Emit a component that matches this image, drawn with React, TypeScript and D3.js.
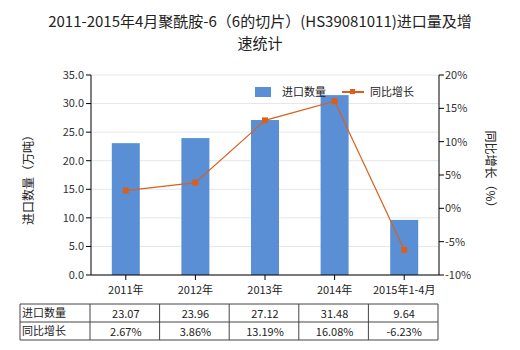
import React from "react";
import * as d3 from "d3";

const categories = ["2011年", "2012年", "2013年", "2014年", "2015年1-4月"];
const importQty = [23.07, 23.96, 27.12, 31.48, 9.64];
const growth = [2.67, 3.86, 13.19, 16.08, -6.23];
const qtyLabels = ["23.07", "23.96", "27.12", "31.48", "9.64"];
const growthLabels = ["2.67%", "3.86%", "13.19%", "16.08%", "-6.23%"];
const leftTicks = [0, 5, 10, 15, 20, 25, 30, 35];
const rightTicks = [-10, -5, 0, 5, 10, 15, 20];

const WIDTH = 520;
const HEIGHT = 350;
const M = { left: 91, right: 439, top: 75, bottom: 275 };
const BAR = "#5a8fd6";
const LINE = "#d9601c";
const FONT = "'Noto Sans CJK SC', 'Microsoft YaHei', sans-serif";

const App = () => {
  const x = d3
    .scaleBand()
    .domain(categories)
    .range([M.left, M.right])
    .paddingInner(0.6)
    .paddingOuter(0.3);
  const xc = (c: string) => (x(c) as number) + x.bandwidth() / 2;
  const yL = d3.scaleLinear().domain([0, 35]).range([M.bottom, M.top]);
  const yR = d3.scaleLinear().domain([-10, 20]).range([M.bottom, M.top]);
  const step = (M.right - M.left) / categories.length;

  const line = d3
    .line<number>()
    .x((d, i) => xc(categories[i]))
    .y((d) => yR(d));

  const tableTop = 304;
  const rowH = 18;
  const tableLeft = 20;

  return (
    <svg
      width={WIDTH}
      height={HEIGHT}
      style={{ position: "absolute", left: 0, top: 0, fontFamily: FONT }}
    >
      <rect width={WIDTH} height={HEIGHT} fill="#fff" />
      <text x={260} y={27} textAnchor="middle" fontSize={15} fill="#222">
        2011-2015年4月聚酰胺-6（6的切片）(HS39081011)进口量及增
      </text>
      <text x={260} y={49} textAnchor="middle" fontSize={15} fill="#222">
        速统计
      </text>

      {/* grid */}
      {leftTicks.map((t) => (
        <line
          key={t}
          x1={M.left}
          x2={M.right}
          y1={yL(t)}
          y2={yL(t)}
          stroke="#e3e7ea"
          strokeWidth={1}
        />
      ))}

      {/* bars */}
      {importQty.map((v, i) => (
        <rect
          key={i}
          x={xc(categories[i]) - 14}
          width={28}
          y={yL(v)}
          height={M.bottom - yL(v)}
          fill={BAR}
        />
      ))}

      {/* line */}
      <path d={line(growth) as string} fill="none" stroke={LINE} strokeWidth={1.2} />
      {growth.map((v, i) => (
        <rect
          key={i}
          x={xc(categories[i]) - 3}
          y={yR(v) - 3}
          width={6}
          height={6}
          fill={LINE}
        />
      ))}

      {/* left axis */}
      <line x1={M.left} x2={M.left} y1={M.top} y2={M.bottom} stroke="#000" />
      {leftTicks.map((t) => (
        <g key={t}>
          <line x1={M.left - 5} x2={M.left} y1={yL(t)} y2={yL(t)} stroke="#000" />
          <text
            x={M.left - 7}
            y={yL(t)}
            dy="0.35em"
            textAnchor="end"
            fontSize={11}
            fill="#333"
          >
            {d3.format(".1f")(t)}
          </text>
        </g>
      ))}
      {/* right axis */}
      <line x1={M.right} x2={M.right} y1={M.top} y2={M.bottom} stroke="#000" />
      {rightTicks.map((t) => (
        <g key={t}>
          <line x1={M.right} x2={M.right + 5} y1={yR(t)} y2={yR(t)} stroke="#000" />
          <text x={M.right + 6} y={yR(t)} dy="0.35em" fontSize={11} fill="#333">
            {t + "%"}
          </text>
        </g>
      ))}
      {/* bottom axis */}
      <line x1={M.left} x2={M.right} y1={M.bottom} y2={M.bottom} stroke="#000" />
      {categories.map((c, i) => (
        <g key={c}>
          <line x1={xc(c)} x2={xc(c)} y1={M.bottom} y2={M.bottom + 5} stroke="#000" />
          <text x={xc(c)} y={294} textAnchor="middle" fontSize={11} fill="#222">
            {c}
          </text>
        </g>
      ))}

      {/* axis titles */}
      <text
        transform={`translate(33,177) rotate(-90)`}
        textAnchor="middle"
        fontSize={12}
        fill="#222"
      >
        进口数量（万吨）
      </text>
      <text
        transform={`translate(486,172) rotate(90)`}
        textAnchor="middle"
        fontSize={12}
        fill="#222"
      >
        同比增长（%）
      </text>

      {/* legend */}
      <rect x={255} y={87} width={16} height={10} fill={BAR} />
      <text x={282} y={92} dy="0.35em" fontSize={11} fill="#222">
        进口数量
      </text>
      <line x1={342} x2={364} y1={92} y2={92} stroke={LINE} strokeWidth={2} />
      <rect x={350} y={89} width={5} height={5} fill={LINE} />
      <text x={370} y={92} dy="0.35em" fontSize={11} fill="#222">
        同比增长
      </text>

      {/* data table */}
      <g fontSize={11} fill="#222">
        <line x1={tableLeft} x2={M.right - 1} y1={tableTop} y2={tableTop} stroke="#444" />
        <line
          x1={tableLeft}
          x2={M.right - 1}
          y1={tableTop + rowH}
          y2={tableTop + rowH}
          stroke="#444"
        />
        <line
          x1={tableLeft}
          x2={M.right - 1}
          y1={tableTop + rowH * 2}
          y2={tableTop + rowH * 2}
          stroke="#444"
        />
        <line x1={tableLeft} x2={tableLeft} y1={tableTop} y2={tableTop + rowH * 2} stroke="#444" />
        {categories.map((c, i) => (
          <line
            key={c}
            x1={M.left - 1 + step * i}
            x2={M.left - 1 + step * i}
            y1={tableTop}
            y2={tableTop + rowH * 2}
            stroke="#444"
          />
        ))}
        <line
          x1={M.right - 1}
          x2={M.right - 1}
          y1={tableTop}
          y2={tableTop + rowH * 2}
          stroke="#444"
        />
        <text x={tableLeft + 2} y={tableTop + rowH / 2} dy="0.35em">
          进口数量
        </text>
        <text x={tableLeft + 2} y={tableTop + rowH * 1.5} dy="0.35em">
          同比增长
        </text>
        {categories.map((c, i) => (
          <g key={c}>
            <text x={xc(c)} y={tableTop + rowH / 2 + 1} dy="0.35em" textAnchor="middle">
              {qtyLabels[i]}
            </text>
            <text x={xc(c)} y={tableTop + rowH * 1.5 + 1} dy="0.35em" textAnchor="middle">
              {growthLabels[i]}
            </text>
          </g>
        ))}
      </g>
    </svg>
  );
};

export default App;
